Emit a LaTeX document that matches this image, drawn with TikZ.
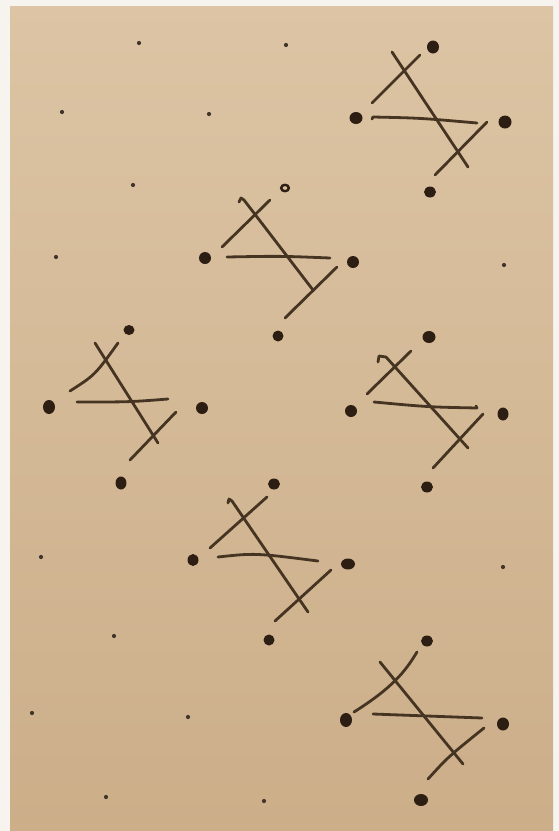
\documentclass[tikz,border=0pt]{standalone}
\usepackage{xcolor}
\usepackage{tikz}
\usetikzlibrary{calc}
\definecolor{paperlight}{RGB}{220,196,164}
\definecolor{paperdark}{RGB}{204,174,137}
\definecolor{inkbrown}{RGB}{45,30,20}
\definecolor{penbrown}{RGB}{70,52,34}
\definecolor{marginwhite}{RGB}{247,244,240}

\begin{document}
\begin{tikzpicture}[x=1pt, y=-1pt,
  stroke/.style={penbrown, line width=2.8pt, line cap=round, line join=round},
  bigdot/.style={fill=inkbrown},
  ringdot/.style={draw=inkbrown, line width=2.4pt},
  speck/.style={fill=inkbrown!90}]
\useasboundingbox (0,0) rectangle (559,831);
\fill[marginwhite] (0,0) rectangle (559,831);
\shade[top color=paperlight, bottom color=paperdark] (10,6) rectangle (553,831);
% loose grid points
\foreach \px/\py in {139/43, 286/45, 62/112, 209/114, 133/185, 56/257, 504/265,
    41/557, 114/636, 32/713, 188/717, 503/567, 106/797, 264/801}
  \fill[speck] (\px,\py) circle[radius=2.1pt];
% motif 1 (top right)
\fill[bigdot] (433,47) circle[x radius=6pt, y radius=6.5pt];
\fill[bigdot] (356,118) circle[x radius=6.5pt, y radius=6pt];
\fill[bigdot] (505,122) circle[x radius=6.5pt, y radius=6.5pt];
\fill[bigdot] (430,192) circle[x radius=6pt, y radius=5.5pt];
\draw[stroke] (372,103) -- (420,55);
\draw[stroke] (392,52) -- (468,167);
\draw[stroke] (372,119) -- (373,117) .. controls (420,118) .. (477,123);
\draw[stroke] (435,175) -- (487,122);
% motif 2
\draw[ringdot] (285,188) circle[x radius=3.8pt, y radius=3.2pt];
\fill[bigdot] (205,258) circle[x radius=6pt, y radius=6pt];
\fill[bigdot] (353,262) circle[x radius=6pt, y radius=6pt];
\fill[bigdot] (278,336) circle[x radius=5.5pt, y radius=5.5pt];
\draw[stroke] (222,247) -- (270,200);
\draw[stroke] (239,202) -- (241,198) -- (244,200) -- (313,290);
\draw[stroke] (227,257) .. controls (280,256) .. (330,258);
\draw[stroke] (285,318) -- (337,267);
% motif 3 (left)
\fill[bigdot] (129,330) circle[x radius=5.5pt, y radius=5pt];
\fill[bigdot] (49,407) circle[x radius=6pt, y radius=7pt];
\fill[bigdot] (202,408) circle[x radius=6pt, y radius=6pt];
\fill[bigdot] (121,483) circle[x radius=5.5pt, y radius=6.5pt];
\draw[stroke] (70,391) .. controls (95,375) .. (118,343);
\draw[stroke] (95,343) -- (158,443);
\draw[stroke] (77,402) .. controls (130,402) .. (168,399);
\draw[stroke] (130,460) -- (176,412);
% motif 4 (right)
\fill[bigdot] (429,337) circle[x radius=6.5pt, y radius=6pt];
\fill[bigdot] (351,411) circle[x radius=6pt, y radius=6pt];
\fill[bigdot] (503,414) circle[x radius=5.5pt, y radius=6.5pt];
\fill[bigdot] (427,487) circle[x radius=6pt, y radius=5.5pt];
\draw[stroke] (367,394) -- (411,351);
\draw[stroke] (378,362) -- (379,356) -- (386,357) -- (468,448);
\draw[stroke] (374,402) .. controls (428,407) .. (477,408) -- (476,406);
\draw[stroke] (433,468) -- (483,414);
% motif 5
\fill[bigdot] (274,484) circle[x radius=6pt, y radius=5.5pt];
\fill[bigdot] (193,560) circle[x radius=5.5pt, y radius=6pt];
\fill[bigdot] (348,564) circle[x radius=7pt, y radius=5.5pt];
\fill[bigdot] (269,640) circle[x radius=5.5pt, y radius=5.5pt];
\draw[stroke] (210,548) -- (267,497);
\draw[stroke] (228,503) -- (229,499) -- (232,501) -- (308,612);
\draw[stroke] (218,557) .. controls (255,553) .. (318,561);
\draw[stroke] (275,621) -- (331,570);
% motif 6 (bottom right)
\fill[bigdot] (427,641) circle[x radius=6pt, y radius=5.5pt];
\fill[bigdot] (346,720) circle[x radius=6pt, y radius=7pt];
\fill[bigdot] (503,724) circle[x radius=6pt, y radius=6.5pt];
\fill[bigdot] (421,800) circle[x radius=7pt, y radius=6pt];
\draw[stroke] (354,712) .. controls (392,688) and (405,672) .. (417,652);
\draw[stroke] (380,662) -- (463,764);
\draw[stroke] (373,714) -- (482,718);
\draw[stroke] (428,779) .. controls (448,757) .. (484,728);
\end{tikzpicture}
\end{document}
